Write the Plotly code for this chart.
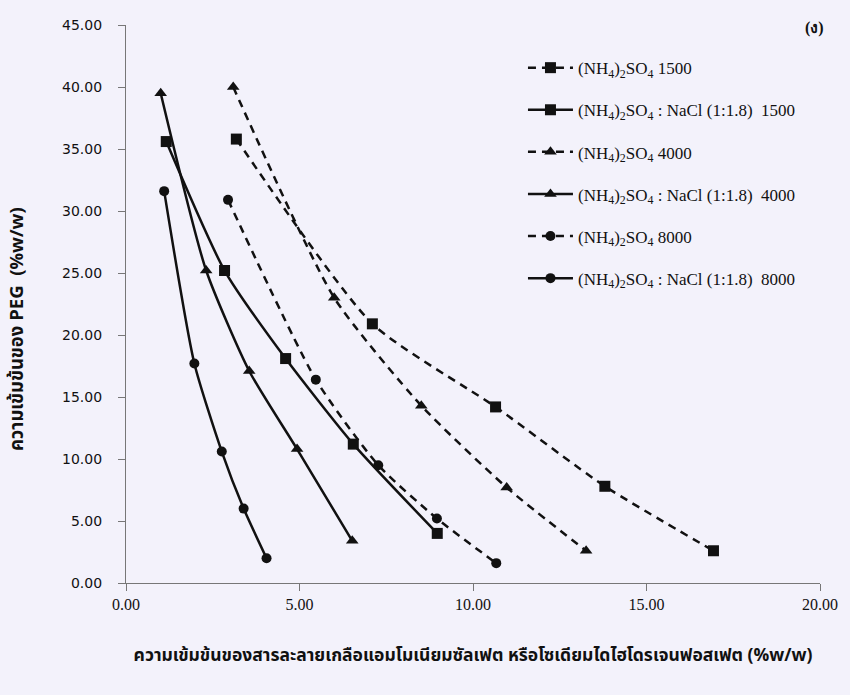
import plotly.graph_objects as go

# PEG concentration (%w/w) versus salt concentration (%w/w) for each binodal curve
as1500_x = [3.18, 7.10, 10.65, 13.80, 16.93]
as1500_y = [35.8, 20.9, 14.2, 7.8, 2.6]

mix1500_x = [1.16, 2.84, 4.60, 6.55, 8.97]
mix1500_y = [35.6, 25.2, 18.1, 11.2, 4.0]

as4000_x = [3.09, 6.00, 8.51, 10.97, 13.26]
as4000_y = [40.0, 23.0, 14.3, 7.7, 2.6]

mix4000_x = [1.00, 2.31, 3.55, 4.93, 6.52]
mix4000_y = [39.5, 25.2, 17.1, 10.8, 3.4]

as8000_x = [2.94, 5.47, 7.27, 8.96, 10.67]
as8000_y = [30.9, 16.4, 9.5, 5.2, 1.6]

mix8000_x = [1.10, 1.97, 2.76, 3.39, 4.05]
mix8000_y = [31.6, 17.7, 10.6, 6.0, 2.0]

AS = "(NH<sub>4</sub>)<sub>2</sub>SO<sub>4</sub>"
MIX = AS + " : NaCl (1:1.8)"
series_names = [AS + " 1500", MIX + "  1500", AS + " 4000",
                MIX + "  4000", AS + " 8000", MIX + "  8000"]

xs = [as1500_x, mix1500_x, as4000_x, mix4000_x, as8000_x, mix8000_x]
ys = [as1500_y, mix1500_y, as4000_y, mix4000_y, as8000_y, mix8000_y]
symbols = ["square", "square", "triangle-up", "triangle-up", "circle", "circle"]
sizes = [11, 11, 11, 11, 10, 10]
dashes = ["8px,6px", "solid", "8px,6px", "solid", "8px,6px", "solid"]

fig = go.Figure()
for i in range(6):
    fig.add_trace(go.Scatter(
        x=xs[i], y=ys[i], name=series_names[i],
        mode="lines+markers",
        line=dict(color="#111111", width=2.5, dash=dashes[i], shape="spline", smoothing=0.6),
        marker=dict(symbol=symbols[i], size=sizes[i], color="#111111"),
        legendgroup=str(i),
    ))

thai_font = "Noto Sans Thai, Noto Sans, DejaVu Sans, sans-serif"

fig.update_layout(
    width=850, height=695,
    margin=dict(l=126, r=25, t=25, b=112),
    paper_bgcolor="#f3f2fb",
    plot_bgcolor="#f3f2fb",
    showlegend=True,
    legend=dict(
        x=0.572, y=0.955, xanchor="left", yanchor="top",
        bgcolor="rgba(0,0,0,0)",
        font=dict(family="Liberation Serif", size=17, color="#111111"),
        traceorder="grouped", tracegroupgap=17,
        itemwidth=45,
    ),
    xaxis=dict(
        range=[0, 20], dtick=5, tickformat=".2f",
        showgrid=False, zeroline=False,
        showline=True, linecolor="#777777", linewidth=1.2,
        ticks="outside", ticklen=7, tickcolor="#777777",
        tickfont=dict(family="Liberation Serif", size=16, color="#111111"),
        title=dict(
            text="<b>ความเข้มข้นของสารละลายเกลือแอมโมเนียมซัลเฟต หรือโซเดียมไดไฮโดรเจนฟอสเฟต (%w/w)</b>",
            font=dict(family=thai_font, size=17.5, color="#111111"),
            standoff=36,
        ),
    ),
    yaxis=dict(
        range=[0, 45], dtick=5, tickformat=".2f",
        showgrid=False, zeroline=False,
        showline=True, linecolor="#777777", linewidth=1.2,
        ticks="outside", ticklen=7, tickcolor="#777777",
        tickfont=dict(family="DejaVu Sans", size=14, color="#111111"),
        ticklabelstandoff=13,
    ),
    annotations=[
        dict(
            text="<b>(ง)</b>", x=1.0, y=1.0, xref="paper", yref="paper",
            xanchor="right", yanchor="top", showarrow=False, yshift=8, xshift=6,
            font=dict(family="Liberation Serif", size=16, color="#111111"),
        ),
        dict(
            text="<b>ความเข้มข้นของ PEG  (%w/w)</b>",
            x=0, y=0.455, xref="paper", yref="paper", textangle=-90,
            xanchor="center", yanchor="middle", showarrow=False, xshift=-109,
            font=dict(family=thai_font, size=18.5, color="#111111"),
        ),
    ],
)

fig.write_html("out.html")
